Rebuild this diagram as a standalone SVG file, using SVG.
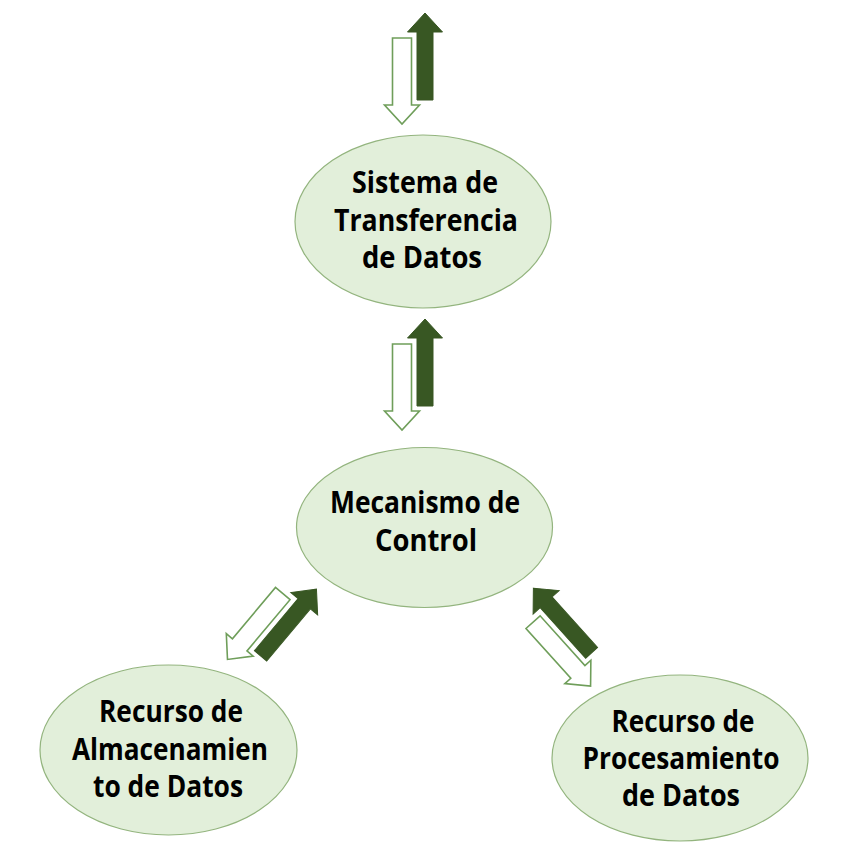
<svg xmlns="http://www.w3.org/2000/svg" width="855" height="855" viewBox="0 0 855 855">
<style>
.node ellipse{fill:#e2efda;stroke:#93b47e;stroke-width:1.2}
.node text{font-family:"Open Sans","Liberation Sans",sans-serif;font-weight:bold;font-size:30px;fill:#000;text-anchor:middle}
.dark{fill:#385723;stroke:#385723;stroke-width:1}
.hollow{fill:#fff;stroke:#6f9e5a;stroke-width:1.6;stroke-linejoin:miter}
</style>
<defs>
<g id="pair">
<path class="dark" d="M0,-43.5 L17.5,-24.5 L8,-24.5 L8,43.5 L-8,43.5 L-8,-24.5 L-17.5,-24.5 Z"/>
<path class="hollow" transform="translate(-23,24.5)" d="M-9.5,-43 L9.5,-43 L9.5,24 L17.5,24 L0,43 L-17.5,24 L-9.5,24 Z"/>
</g>
</defs>
<rect width="855" height="855" fill="#fff"/>
<g id="connectors">
<use href="#pair" transform="translate(425,56.5)"/>
<use href="#pair" transform="translate(425,362.5)"/>
<use href="#pair" transform="translate(288.5,622.5) rotate(40)"/>
<use href="#pair" transform="translate(562.5,620.5) rotate(-42)"/>
</g>
<g id="node-transferencia" class="node">
<ellipse cx="423" cy="221.5" rx="128" ry="86.5"/>
<text x="425" y="193" textLength="146" lengthAdjust="spacingAndGlyphs">Sistema de</text>
<text x="426" y="231" textLength="184" lengthAdjust="spacingAndGlyphs">Transferencia</text>
<text x="422" y="268" textLength="120" lengthAdjust="spacingAndGlyphs">de Datos</text>
</g>
<g id="node-control" class="node">
<ellipse cx="424.5" cy="527.5" rx="128" ry="80"/>
<text x="425" y="513" textLength="190" lengthAdjust="spacingAndGlyphs">Mecanismo de</text>
<text x="426" y="551" textLength="102" lengthAdjust="spacingAndGlyphs">Control</text>
</g>
<g id="node-almacenamiento" class="node">
<ellipse cx="168.5" cy="750" rx="128.5" ry="85"/>
<text x="171" y="722" textLength="144" lengthAdjust="spacingAndGlyphs">Recurso de</text>
<text x="170" y="760" textLength="196" lengthAdjust="spacingAndGlyphs">Almacenamien</text>
<text x="168" y="797" textLength="150" lengthAdjust="spacingAndGlyphs">to de Datos</text>
</g>
<g id="node-procesamiento" class="node">
<ellipse cx="680" cy="758" rx="128" ry="83"/>
<text x="683" y="732" textLength="143" lengthAdjust="spacingAndGlyphs">Recurso de</text>
<text x="681" y="769" textLength="197" lengthAdjust="spacingAndGlyphs">Procesamiento</text>
<text x="681" y="806" textLength="118" lengthAdjust="spacingAndGlyphs">de Datos</text>
</g>
</svg>
